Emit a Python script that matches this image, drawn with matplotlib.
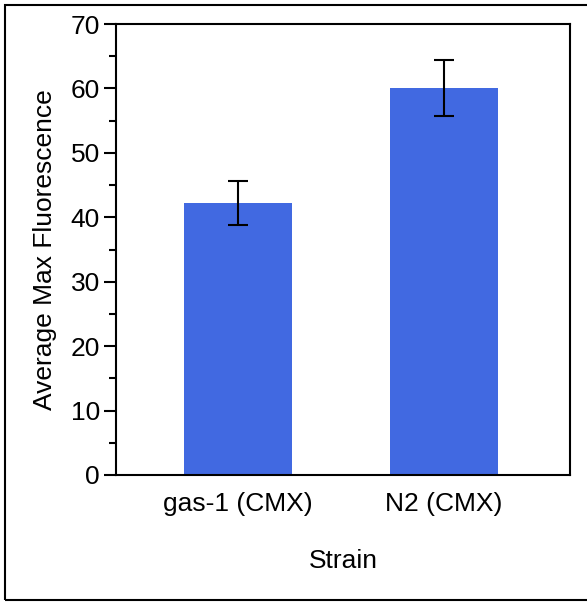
import matplotlib.pyplot as plt
from matplotlib.patches import Rectangle
from matplotlib.ticker import MultipleLocator

strains = ["gas-1 (CMX)", "N2 (CMX)"]
avg_max = [42.2, 60.1]
err = [3.4, 4.35]

plt.rcParams['font.family'] = ['Liberation Sans', 'DejaVu Sans']

fig = plt.figure(figsize=(5.87, 6.02), dpi=100)
ax = fig.add_axes([116 / 587, 1 - 475 / 602, 454 / 587, 451 / 602])

x = list(range(len(strains)))
ax.bar(x, avg_max, width=0.524, color="royalblue", yerr=err,
       error_kw=dict(ecolor="black", elinewidth=1.5, capsize=7.5, capthick=1.5))

ax.set_xlim(-0.592, 1.612)
ax.set_ylim(0, 70)
ax.yaxis.set_major_locator(MultipleLocator(10))
ax.yaxis.set_minor_locator(MultipleLocator(5))
ax.set_xticks(x)
ax.set_xticklabels(strains)
ax.tick_params(axis='both', which='major', labelsize=19, length=8.5, width=1.5, direction='out')
ax.tick_params(axis='y', which='minor', length=5, width=1.5)
ax.tick_params(axis='y', pad=3)
ax.tick_params(axis='x', length=0, pad=12)
for s in ax.spines.values():
    s.set_linewidth(1.5)

ax.set_xlabel("Strain", fontsize=19, labelpad=24)
ax.set_ylabel("Average Max Fluorescence", fontsize=19, labelpad=10)

# outer frame around the whole figure (right edge runs off the picture)
fig.patches.append(Rectangle((5 / 587, 2 / 602), 600 / 587, 595 / 602, transform=fig.transFigure,
                             fill=False, edgecolor="black", linewidth=1.5))

fig.savefig("out.png", dpi=100)
